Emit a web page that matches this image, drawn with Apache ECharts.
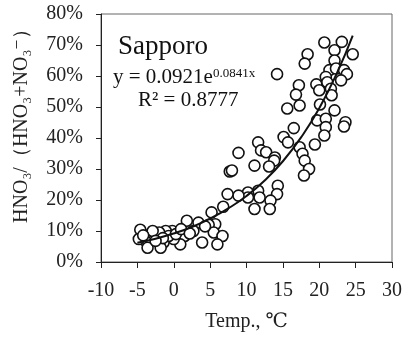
<!DOCTYPE html>
<html>
<head>
<meta charset="utf-8">
<script src="https://cdn.jsdelivr.net/npm/echarts@6/dist/echarts.min.js"></script>
<style>
  html, body { margin: 0; padding: 0; background: #fff; }
  #chart { width: 405px; height: 338px; }
</style>
</head>
<body>
<div id="chart"></div>
<script>
// observed points: temperature (C) and HNO3 fraction (%)
const temps = [
  20.7, 23.1, 18.4, 18.0, 22.1, 24.6, 22.1, 21.4, 22.3, 23.4, 23.8, 23.0, 20.9, 21.1,
  14.2, 17.2, 16.8, 17.3, 15.6, 19.6, 20.0, 21.6, 21.7, 20.1, 22.1, 19.7, 20.9, 20.9,
  20.7, 23.6, 23.4, 16.5, 15.1, 15.7, 17.3, 17.7, 19.4, 11.6, 12.0, 12.7, 8.9, 13.9,
  13.8, 13.1, 11.1, 7.7, 8.0, 18.0, 18.6, 17.9, 14.3, 14.2, 13.3, 13.2, 11.6, 11.8,
  11.1, 10.2, 10.2, 8.9, 7.4, 6.8, 5.2, 5.7, 4.8, 5.5, 6.7, 6.0, 3.9, 3.4,
  2.7, 1.8, 1.5, 0.9, -0.2, 0.0, -1.1, -1.4, -1.8, -2.0, -3.2, -3.9, -3.6, -4.6,
  -4.8, -2.9, -0.7, 0.3, -1.5, -2.5, -4.2, 1.0, 2.2, 4.3
];
const ratios = [
  70.8, 71.0, 67.0, 64.0, 68.3, 67.0, 65.0, 61.9, 62.4, 61.9, 60.6, 58.6, 59.7, 58.0,
  60.6, 57.0, 54.0, 50.5, 49.5, 57.3, 55.4, 55.9, 53.8, 50.8, 48.9, 45.7, 46.2, 43.5,
  40.8, 45.1, 43.7, 43.2, 40.3, 38.6, 37.0, 34.9, 37.9, 38.6, 36.0, 35.4, 35.2, 33.7,
  32.7, 30.8, 31.1, 29.2, 29.5, 32.7, 30.0, 27.9, 24.6, 21.9, 19.8, 17.1, 23.0, 20.8,
  17.1, 22.4, 20.8, 21.4, 21.9, 17.8, 16.0, 12.2, 12.0, 9.5, 8.4, 5.7, 6.3, 12.7,
  10.0, 13.3, 8.4, 5.7, 10.0, 7.4, 10.0, 6.3, 4.6, 9.5, 9.0, 6.8, 4.6, 10.4,
  7.4, 10.0, 8.4, 9.0, 7.7, 6.8, 8.6, 10.6, 9.2, 11.5
];
// fitted curve
const fitT = [-5, -2.5, 0, 2.5, 5, 7.5, 10, 12.5, 15, 17.5, 20, 22.5, 24.6];
const fitR = [6.2, 7.5, 9.2, 11.3, 14.0, 17.3, 21.3, 26.3, 32.5, 40.2, 49.6, 61.3, 73.0];

const xTicks = [-10, 30, 5];
const yTicks = [0, 80, 10];

const serif = "'Liberation Serif', 'DejaVu Serif', serif";

const chart = echarts.init(document.getElementById("chart"));
const option = {
  animation: false,
  grid: { left: 101, right: 10, top: 14, bottom: 76, show: true, borderColor: "#666", borderWidth: 1 },
  xAxis: {
    type: "value",
    min: xTicks[0], max: xTicks[1], interval: xTicks[2],
    name: "Temp., \u2103",
    nameLocation: "middle",
    nameGap: 50,
    nameTextStyle: { fontFamily: serif, fontSize: 20, color: "#222" },
    axisLine: { onZero: false, lineStyle: { color: "#222", width: 1 } },
    axisTick: { show: true, length: 6, lineStyle: { color: "#222" } },
    axisLabel: { fontFamily: serif, fontSize: 20, color: "#222", margin: 19 },
    splitLine: { show: false }
  },
  yAxis: {
    type: "value",
    min: yTicks[0], max: yTicks[1], interval: yTicks[2],
    name: "HNO\u2083/\uff08HNO\u2083+NO\u2083\u207b\uff09",
    nameLocation: "middle",
    nameRotate: 90,
    nameGap: 69,
    nameTextStyle: { fontFamily: serif, fontSize: 20, color: "#222", padding: [0, 0, 0, 34] },
    axisLine: { show: true, onZero: false, lineStyle: { color: "#222", width: 1 } },
    axisTick: { show: true, length: 5, lineStyle: { color: "#222" } },
    axisLabel: { fontFamily: serif, fontSize: 20, color: "#222", margin: 18, formatter: "{value}%" },
    splitLine: { show: false }
  },
  series: [
    {
      type: "scatter",
      data: temps.map((t, i) => [t, ratios[i]]),
      symbol: "circle",
      symbolSize: 11,
      itemStyle: { color: "#fff", borderColor: "#111", borderWidth: 1.6, opacity: 1 }
    },
    {
      type: "line",
      data: fitT.map((t, i) => [t, fitR[i]]),
      smooth: true,
      showSymbol: false,
      lineStyle: { color: "#111", width: 2 },
      z: 3
    }
  ],
  graphic: [
    { type: "text", left: 118, top: 33, style: { text: "Sapporo", font: "27px " + serif, fill: "#111" } },
    {
      type: "text", left: 113, top: 67,
      style: {
        text: "{b|y = 0.0921e}{s|0.0841x}",
        fill: "#111",
        rich: {
          b: { fontFamily: serif, fontSize: 21, verticalAlign: "bottom" },
          s: { fontFamily: serif, fontSize: 13, verticalAlign: "top" }
        }
      }
    },
    { type: "text", left: 138, top: 90, style: { text: "R\u00b2 = 0.8777", font: "21px " + serif, fill: "#111" } }
  ]
};
chart.setOption(option);
</script>
</body>
</html>
